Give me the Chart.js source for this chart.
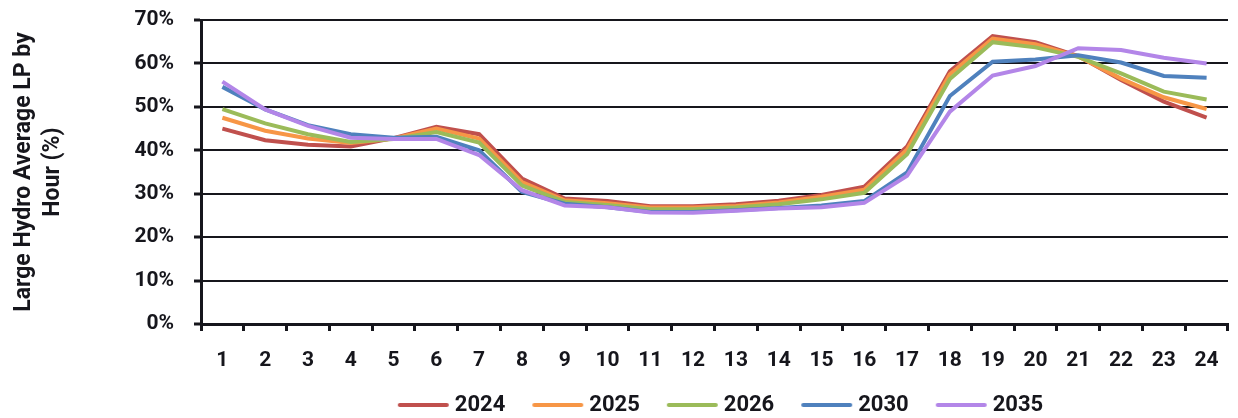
<!DOCTYPE html>
<html>
<head>
<meta charset="utf-8">
<script src="https://cdn.jsdelivr.net/npm/chart.js@4/dist/chart.umd.min.js"></script>
<style>
  html, body { margin: 0; padding: 0; background: #ffffff; }
  #wrap { width: 1238px; height: 418px; position: relative; }
</style>
</head>
<body>
<div id="wrap"><canvas id="lp"></canvas></div>
<script>
// Hour of day
const hours = ['1','2','3','4','5','6','7','8','9','10','11','12','13','14','15','16','17','18','19','20','21','22','23','24'];

// Average large-hydro LP by hour, in percent
const lp2024 = [45.0, 42.3, 41.3, 40.9, 42.8, 45.4, 43.7, 33.5, 28.9, 28.3, 27.1, 27.1, 27.6, 28.4, 29.7, 31.6, 40.9, 58.2, 66.3, 64.9, 61.7, 56.2, 51.2, 47.5];
const lp2025 = [47.5, 44.5, 42.7, 41.7, 42.7, 45.0, 42.7, 32.7, 28.5, 27.8, 26.8, 26.8, 27.2, 28.0, 29.3, 30.9, 40.2, 57.5, 65.7, 64.4, 61.6, 56.5, 52.2, 49.5];
const lp2026 = [49.5, 46.2, 43.7, 41.9, 42.6, 44.2, 41.8, 31.9, 28.1, 27.4, 26.4, 26.4, 26.8, 27.6, 28.7, 30.2, 39.1, 56.4, 64.9, 63.7, 61.5, 57.7, 53.5, 51.7];
const lp2030 = [54.6, 49.4, 45.8, 43.7, 42.9, 43.1, 40.0, 30.4, 27.7, 26.9, 25.8, 25.8, 26.2, 26.7, 27.3, 28.3, 34.9, 52.5, 60.4, 60.9, 61.9, 60.2, 57.1, 56.7];
const lp2035 = [55.8, 49.4, 45.6, 42.9, 42.6, 42.6, 38.9, 30.8, 27.3, 26.9, 25.7, 25.6, 26.1, 26.6, 26.9, 27.9, 34.1, 48.9, 57.2, 59.4, 63.5, 63.1, 61.3, 60.0];

const seriesNames = ['2024', '2025', '2026', '2030', '2035'];
const seriesValues = [lp2024, lp2025, lp2026, lp2030, lp2035];
const seriesColors = ['#C0504D', '#F79646', '#9BBB59', '#4F81BD', '#B386E8'];

const yTickValues = [0, 10, 20, 30, 40, 50, 60, 70];
const axisTitle = ['Large Hydro Average LP by', 'Hour (%)'];

const INK = '#16161c';
const FONT = 'Roboto, "Noto Sans", sans-serif';

// Legend swatch: a short line ending just before the label text.
// The image is centred on a 63px box, so the line sits at its right side.
function swatch(color) {
  const c = document.createElement('canvas');
  c.width = 77; c.height = 6;
  const g = c.getContext('2d');
  g.strokeStyle = color;
  g.lineWidth = 4;
  g.lineCap = 'round';
  g.beginPath();
  g.moveTo(26, 3);
  g.lineTo(73, 3);
  g.stroke();
  return c;
}
const swatches = seriesColors.map(swatch);

// Later years are drawn on top of earlier ones
const datasets = seriesNames.map((name, i) => ({
  label: name,
  data: seriesValues[i],
  borderColor: seriesColors[i],
  backgroundColor: seriesColors[i],
  borderWidth: 4,
  pointRadius: 0,
  tension: 0,
  fill: false,
  order: seriesNames.length - i
}));

// Centre the legend under the plot area and drop it to its baseline
const legendPlacement = {
  id: 'legendPlacement',
  afterLayout(chart) {
    const lg = chart.legend;
    if (!lg) return;
    lg.left += 98;
    lg.right += 98;
    lg.top += 8;
    lg.bottom += 8;
  }
};

new Chart(document.getElementById('lp'), {
  type: 'line',
  data: { labels: hours, datasets },
  plugins: [legendPlacement],
  options: {
    responsive: true,
    maintainAspectRatio: false,
    animation: false,
    layout: { padding: { top: 20, right: 10, left: 0, bottom: 0 } },
    plugins: {
      tooltip: { enabled: false },
      legend: {
        position: 'bottom',
        labels: {
          usePointStyle: true,
          pointStyleWidth: 63,
          padding: 10,
          color: INK,
          font: { family: FONT, size: 22, weight: 'bold' },
          sort: (a, b) => a.datasetIndex - b.datasetIndex,
          generateLabels(chart) {
            const items = Chart.defaults.plugins.legend.labels.generateLabels(chart);
            items.forEach(it => { it.pointStyle = swatches[it.datasetIndex]; });
            return items;
          }
        }
      }
    },
    scales: {
      x: {
        type: 'category',
        offset: true,
        afterFit(scale) { scale.height = 52; },
        grid: {
          offset: true,
          drawOnChartArea: false,
          drawTicks: true,
          tickLength: 7,
          tickWidth: 3,
          tickColor: INK
        },
        border: { display: true, color: INK, width: 3 },
        ticks: {
          color: INK,
          padding: 17,
          maxRotation: 0,
          autoSkip: false,
          font: { family: FONT, size: 21, weight: 'bold' }
        }
      },
      y: {
        min: 0,
        max: 70,
        afterFit(scale) {
          scale.width = 201;
          scale.paddingTop = 12;
          scale.paddingBottom = 12;
        },
        afterBuildTicks(scale) { scale.ticks = yTickValues.map(v => ({ value: v })); },
        grid: {
          color: INK,
          lineWidth: 2,
          drawTicks: true,
          tickLength: 7,
          tickWidth: 3,
          tickColor: INK
        },
        border: { display: true, color: INK, width: 3 },
        ticks: {
          color: INK,
          padding: 20,
          font: { family: FONT, size: 21, weight: 'bold' },
          callback: v => v + '%'
        },
        title: {
          display: true,
          text: axisTitle,
          color: INK,
          padding: { top: 10, bottom: 0 },
          font: { family: FONT, size: 23, weight: 'bold', lineHeight: 1.26 }
        }
      }
    }
  }
});
</script>
</body>
</html>
